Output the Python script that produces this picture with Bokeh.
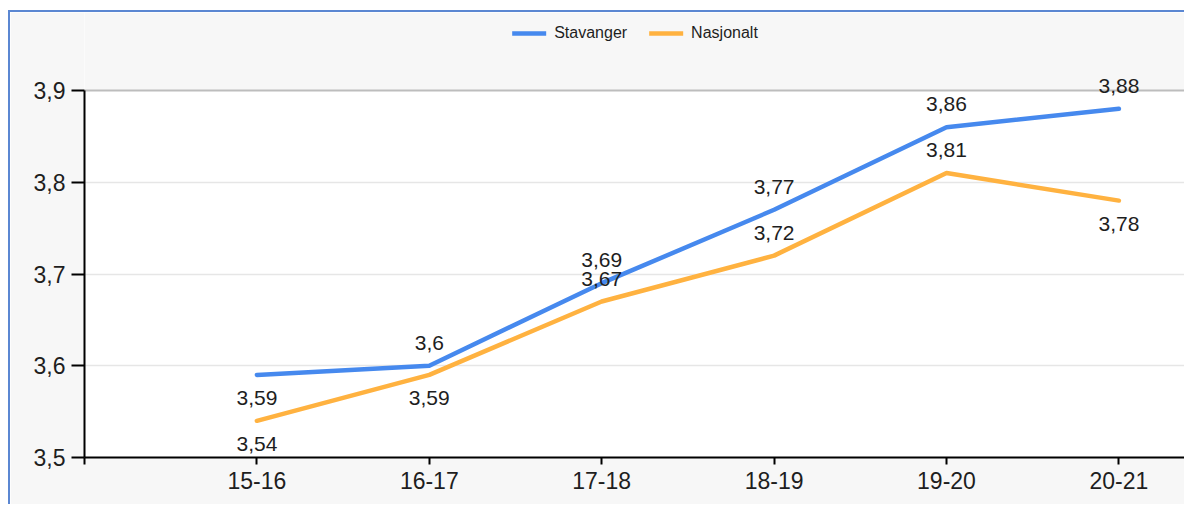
from bokeh.plotting import figure
from bokeh.models import (ColumnDataSource, LabelSet, Legend, LegendItem,
                          FixedTicker, Range1d, BoxAnnotation, Span)
from bokeh.core.properties import value
from bokeh.embed import file_html
from bokeh.resources import INLINE

# ---- data ----
seasons = ["15-16", "16-17", "17-18", "18-19", "19-20", "20-21"]
stavanger = [3.59, 3.60, 3.69, 3.77, 3.86, 3.88]
nasjonalt = [3.54, 3.59, 3.67, 3.72, 3.81, 3.78]
y_ticks = [3.5, 3.6, 3.7, 3.8, 3.9]
y_tick_labels = ["3,5", "3,6", "3,7", "3,8", "3,9"]
series_names = ["Stavanger", "Nasjonalt"]
# label placement relative to each point
stav_label_side = ["below", "above", "above", "above", "above", "above"]
nasj_label_side = ["below", "below", "above", "above", "above", "below"]

BLUE = "#4689ee"
ORANGE = "#ffb240"
FONT = "Liberation Sans"
TEXT = "#1e1e1e"
PANEL = "#f7f7f7"

# layout geometry (pixels)
W, H = 1176, 494
LEFT = 74            # space left of plot frame
BOTTOM = 49          # space below plot frame
TOP_GAP = 78         # gray strip above the top tick, inside the frame
CAT_STEP = 172.4     # px between categories

xs = list(range(1, len(seasons) + 1))


def fmt(v):
    return f"{v:g}".replace(".", ",")


def offsets(sides):
    return [23 if s == "above" else -23 for s in sides]


src_s = ColumnDataSource(dict(x=xs, y=stavanger,
                              lbl=[fmt(v) for v in stavanger],
                              off=offsets(stav_label_side)))
src_n = ColumnDataSource(dict(x=xs, y=nasjonalt,
                              lbl=[fmt(v) for v in nasjonalt],
                              off=offsets(nasj_label_side)))

frame_h = H - BOTTOM
data_h = frame_h - TOP_GAP
y_lo, y_hi = y_ticks[0], y_ticks[-1]
y_top = y_hi + (y_hi - y_lo) * TOP_GAP / data_h
x_end = (W - LEFT) / CAT_STEP

p = figure(width=W, height=H, output_backend="svg", toolbar_location=None,
           x_range=Range1d(0, x_end), y_range=Range1d(y_lo, y_top),
           min_border_left=LEFT, min_border_right=0, min_border_top=0,
           min_border_bottom=BOTTOM)
p.margin = (10, 0, 0, 8)
p.styles = {"border-top": "2px solid #5b87d2", "border-left": "2px solid #5b87d2"}

p.background_fill_color = "white"
p.border_fill_color = PANEL
p.outline_line_color = None

# gray strip above the plotting area (legend zone)
p.add_layout(BoxAnnotation(bottom=y_hi, fill_color=PANEL, fill_alpha=1,
                           line_color=None, level="underlay"))

# axes
p.xaxis.ticker = FixedTicker(ticks=[0] + xs)
p.xaxis.major_label_overrides = {0: "", **{x: s for x, s in zip(xs, seasons)}}
p.yaxis.ticker = FixedTicker(ticks=y_ticks)
p.yaxis.major_label_overrides = {t: l for t, l in zip(y_ticks, y_tick_labels)}
p.yaxis.bounds = (y_lo, y_hi)
for ax in (p.xaxis, p.yaxis):
    ax.axis_line_color = "black"
    ax.axis_line_width = 2
    ax.major_tick_line_color = "black"
    ax.major_tick_line_width = 2
    ax.major_tick_in = 0
    ax.minor_tick_line_color = None
    ax.major_label_text_font = FONT
    ax.major_label_text_font_size = "23px"
    ax.major_label_text_color = TEXT
p.xaxis.major_tick_out = 7
p.xaxis.major_label_standoff = 7
p.yaxis.major_tick_out = 13
p.yaxis.major_label_standoff = 6

p.xgrid.grid_line_color = None
p.ygrid.ticker = FixedTicker(ticks=y_ticks[1:-1])
p.ygrid.grid_line_color = "#e6e6e6"
p.ygrid.grid_line_width = 1.5
p.add_layout(Span(location=y_hi, dimension="width", line_color="#bdbdbd",
                  line_width=2, level="underlay"))

r_s = p.line("x", "y", source=src_s, line_color=BLUE, line_width=4.5,
             line_cap="round", line_join="round")
r_n = p.line("x", "y", source=src_n, line_color=ORANGE, line_width=4.5,
             line_cap="round", line_join="round")

for src in (src_s, src_n):
    p.add_layout(LabelSet(x="x", y="y", text="lbl", y_offset="off", source=src,
                          text_align="center", text_baseline="middle",
                          text_font=value(FONT), text_font_size=value("21px"),
                          text_color=TEXT))

legend = Legend(items=[LegendItem(label=series_names[0], renderers=[r_s]),
                       LegendItem(label=series_names[1], renderers=[r_n])],
                orientation="horizontal", location="top_center",
                border_line_color=None, background_fill_alpha=0,
                label_text_font=FONT, label_text_font_size="16px",
                label_text_color=TEXT, glyph_width=34, glyph_height=18,
                label_standoff=8, spacing=22, padding=0, margin=12)
p.add_layout(legend, "center")

open("out.html", "w").write(file_html(p, INLINE))
